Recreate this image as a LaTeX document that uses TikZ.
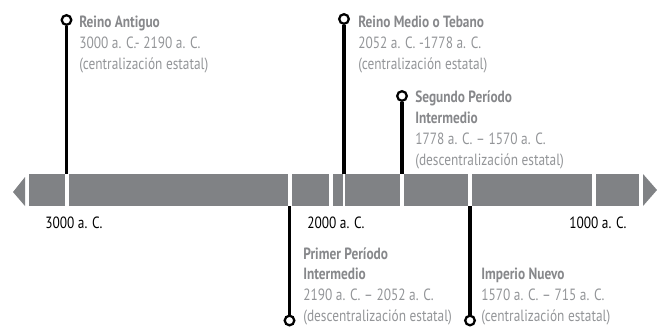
\documentclass[tikz,border=0pt]{standalone}
\usepackage{fontspec}
\setmainfont{PT Sans}[FakeStretch=0.82]
\usepackage{xcolor}

\definecolor{bargray}{HTML}{808285}
\definecolor{titlegray}{HTML}{87888B}
\definecolor{textgray}{HTML}{939598}

\begin{document}
\begin{tikzpicture}[x=0.75pt,y=-0.75pt,
        period/.style={circle,draw=black,fill=white,line width=1.7pt,inner sep=0pt,minimum size=7.2pt},
        stem/.style={line width=2.3pt},
        gap/.style={white,line width=3pt},
        info/.style={anchor=base west,align=left,inner sep=0pt,text=textgray,font=\fontsize{12.2}{15.6}\selectfont},
        year/.style={anchor=base west,inner sep=0pt,font=\fontsize{12.2}{15.6}\selectfont}]
        \useasboundingbox (0,0) rectangle (657,326);

        % time bar
        \fill[bargray] (29,174) rectangle (639,206);
        \fill[bargray] (25,177) -- (13,192) -- (25,206) -- cycle;
        \fill[bargray] (643,174) -- (657,190) -- (643,206) -- cycle;

        % white separators
        \foreach \x in {66.5,289.5,331,402,470,594}
            \draw[gap] (\x,174) -- (\x,206);
        \draw[gap,line width=1.5pt] (344,174) -- (344,206);

        % years under the bar
        \node[year] (y3000) at (45,228) {3000 a. C.};
        \node[year] (y2000) at (307,228) {2000 a. C.};
        \node[year] (y1000) at (569,228) {1000 a. C.};

        % ends of the stems on the bar
        \coordinate (raend) at (66.5,174);
        \coordinate (rmend) at (344,174);
        \coordinate (spend) at (402,174);
        \coordinate (ppend) at (289.5,206);
        \coordinate (inend) at (470,206);

        % Reino Antiguo (base = last line)
        \node[period] (ra) at (66.5,20) {};
        \draw[stem] (ra) -- (raend);
        \node[info] (ratext) at (79,69) {{\color{titlegray}\bfseries Reino Antiguo}\\3000 a. C.- 2190 a. C.\\(centralización estatal)};

        % Reino Medio
        \node[period] (rm) at (344,19) {};
        \draw[stem] (rm) -- (rmend);
        \node[info] (rmtext) at (358,69) {{\color{titlegray}\bfseries Reino Medio o Tebano}\\2052 a. C. -1778 a. C.\\(centralización estatal)};

        % Segundo Periodo Intermedio
        \node[period] (sp) at (402,96) {};
        \draw[stem] (sp) -- (spend);
        \node[info] (sptext) at (415,165) {{\color{titlegray}\bfseries Segundo Período}\\{\color{titlegray}\bfseries Intermedio}\\1778 a. C. – 1570 a. C.\\(descentralización estatal)};

        % Primer Periodo Intermedio
        \node[period] (pp) at (289.5,320.5) {};
        \draw[stem] (pp) -- (ppend);
        \node[info] (pptext) at (303,321.5) {{\color{titlegray}\bfseries Primer Período}\\{\color{titlegray}\bfseries Intermedio}\\2190 a. C. – 2052 a. C.\\(descentralización estatal)};

        % Imperio Nuevo
        \node[period] (in) at (470,320.5) {};
        \draw[stem] (in) -- (inend);
        \node[info] (intext) at (481,321.5) {{\color{titlegray}\bfseries Imperio Nuevo}\\1570 a. C. – 715 a. C.\\(centralización estatal)};
    \end{tikzpicture}
\end{document}
